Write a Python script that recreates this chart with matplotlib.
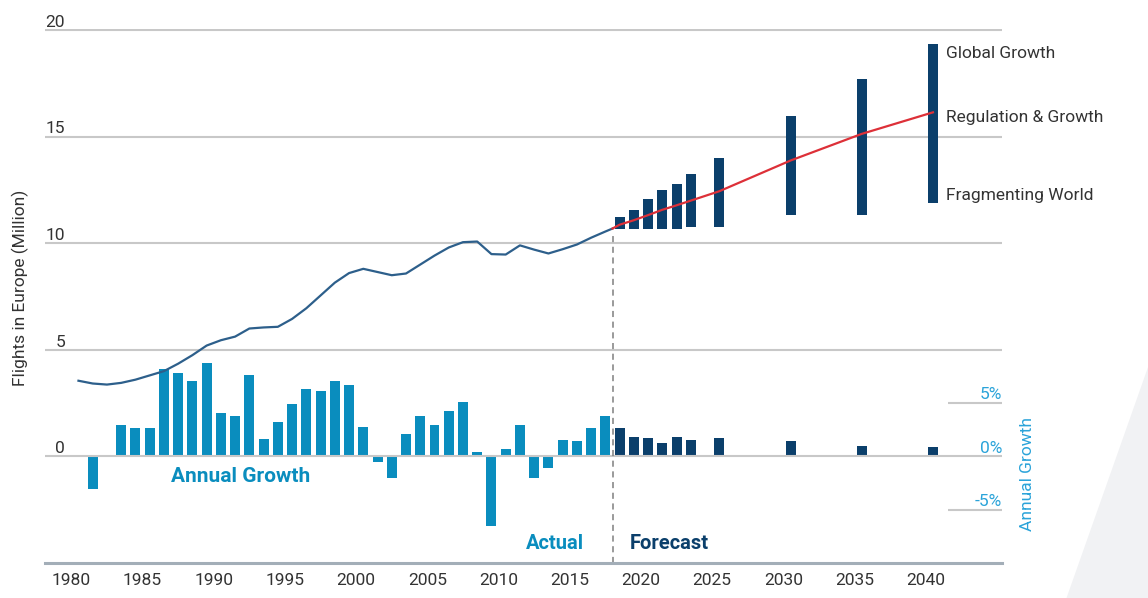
import matplotlib
matplotlib.use("Agg")
import matplotlib.pyplot as plt
from matplotlib.patches import Polygon

plt.rcParams['font.family'] = ['Roboto', 'DejaVu Sans']


# flights in Europe (million), actual
hist_years = list(range(1980, 2018))
hist_flights = [3.55, 3.42, 3.37, 3.45, 3.60, 3.80, 4.00, 4.35, 4.75, 5.20,
                5.45, 5.62, 6.00, 6.05, 6.08, 6.45, 6.95, 7.55, 8.15, 8.60,
                8.80, 8.65, 8.50, 8.58, 9.00, 9.42, 9.80, 10.05, 10.08, 9.49,
                9.47, 9.90, 9.70, 9.52, 9.72, 9.94, 10.26, 10.55]

# hand-over point between actual and forecast
split_year = 2017.5
split_flights = 10.69

# forecast scenarios
fc_years = [2018, 2019, 2020, 2021, 2022, 2023, 2025, 2030, 2035, 2040]
fc_base = [10.87, 11.08, 11.32, 11.57, 11.78, 12.00, 12.44, 13.88, 15.13, 16.14]
fc_low = [10.69, 10.69, 10.69, 10.69, 10.69, 10.76, 10.76, 11.34, 11.34, 11.88]
fc_high = [11.23, 11.57, 12.07, 12.51, 12.77, 13.26, 14.00, 15.95, 17.70, 19.36]

# annual growth (%)
growth_years = list(range(1981, 2018))
growth_actual = [-3.05, 0.0, 2.99, 2.70, 2.70, 8.20, 7.80, 7.10, 8.75, 4.10,
                 3.80, 7.60, 1.60, 3.20, 4.90, 6.35, 6.10, 7.10, 6.70, 2.80,
                 -0.55, -2.05, 2.14, 3.80, 2.96, 4.25, 5.10, 0.44, -6.54, 0.72,
                 2.96, -2.04, -1.10, 1.57, 1.42, 2.70, 3.80]
growth_forecast = [2.70, 1.86, 1.73, 1.29, 1.86, 1.57, 1.73, 1.42, 1.00, 0.88]

tick_years = list(range(1980, 2041, 5))
left_ticks = [0, 5, 10, 15, 20]
right_ticks = [-5, 0, 5]
scenario_labels = ['Global Growth', 'Regulation & Growth', 'Fragmenting World']
scenario_label_y = [18.88, 15.89, 12.24]

c_actual = '#0a8dbe'
c_fcst = '#0b3f6b'
c_line = '#2d5f8b'
c_red = '#dd3038'
c_light = '#2aa3d9'
c_text = '#333333'
c_grid = '#c8c8c8'


fig = plt.figure(figsize=(11.48, 5.98), dpi=100)
fig.add_artist(Polygon([(1.0, 0.386), (0.929, 0.0), (1.0, 0.0)], closed=True,
                       transform=fig.transFigure, fc='#f1f2f4', ec='none'))

ax = fig.add_axes([45 / 1148, 35 / 598, 957 / 1148, 534 / 598])
ax2 = ax.twinx()
ax.set_zorder(ax2.get_zorder() + 1)
ax.patch.set_visible(False)

ax.set_xlim(1977.65, 2044.85)
ax.set_ylim(-5, 20.05)
ax2.set_ylim(-10, 40.1)

# growth bars (right scale)
ax2.bar(growth_years, growth_actual, width=0.7, color=c_actual)
ax2.bar(fc_years, growth_forecast, width=0.7, color=c_fcst)
ax2.hlines([-5, 5], 2041.05, 2044.85, color=c_grid, lw=1.5)

# flights
ax.bar(fc_years, [h - l for h, l in zip(fc_high, fc_low)], bottom=fc_low,
       width=0.7, color=c_fcst, zorder=3)
ax.plot(hist_years + [split_year], hist_flights + [split_flights],
        color=c_line, lw=1.6, zorder=4)
ax.plot([split_year] + fc_years, [split_flights] + fc_base,
        color=c_red, lw=1.6, zorder=4)
ax.vlines(split_year, -5, 10.37, color='#7f7f7f', lw=1.1,
          linestyles=(0, (4, 3)), zorder=2)

ax.set_yticks(left_ticks)
ax.yaxis.grid(True, color=c_grid, lw=1.5)
ax.set_axisbelow(True)
ax2.set_yticks([])
ax.set_xticks([y - 0.5 for y in tick_years])
ax.set_xticklabels([str(y) for y in tick_years])
ax.tick_params(axis='x', length=0, pad=7, labelsize=12.5, labelcolor=c_text)
ax.tick_params(axis='y', length=0, labelleft=False)

for a in (ax, ax2):
    for s in a.spines.values():
        s.set_visible(False)
ax.spines['bottom'].set_visible(True)
ax.spines['bottom'].set_color('#a3aeb8')
ax.spines['bottom'].set_linewidth(2.2)

ytr = ax.get_yaxis_transform()
for v in left_ticks:
    ax.text(0.021, v + 0.15, str(v), transform=ytr, ha='right', va='baseline',
            fontsize=12.5, color=c_text)
ytr2 = ax2.get_yaxis_transform()
for v in right_ticks:
    ax2.text(1.0, v + 0.35, '%d%%' % v, transform=ytr2, ha='right',
             va='baseline', fontsize=12.5, color=c_light)

for lab, yv in zip(scenario_labels, scenario_label_y):
    ax.text(2040.95, yv, lab, ha='left', va='center', fontsize=12.5, color=c_text)

ax.text(1991.4, -0.93, 'Annual Growth', ha='center', va='center',
        fontsize=15, fontweight='bold', color=c_actual)
ax.text(split_year - 2.0, -4.07, 'Actual', ha='right', va='center',
        fontsize=14.5, fontweight='bold', color=c_actual)
ax.text(split_year + 1.2, -4.07, 'Forecast', ha='left', va='center',
        fontsize=14.5, fontweight='bold', color=c_fcst)

fig.text(20 / 1148, 1 - 288 / 598, 'Flights in Europe (Million)', rotation=90,
         ha='center', va='center', fontsize=12.5, color=c_text)
fig.text(1028 / 1148, 1 - 474 / 598, 'Annual Growth', rotation=90,
         ha='center', va='center', fontsize=12.5, color=c_light)

fig.savefig('out.png', dpi=100)
